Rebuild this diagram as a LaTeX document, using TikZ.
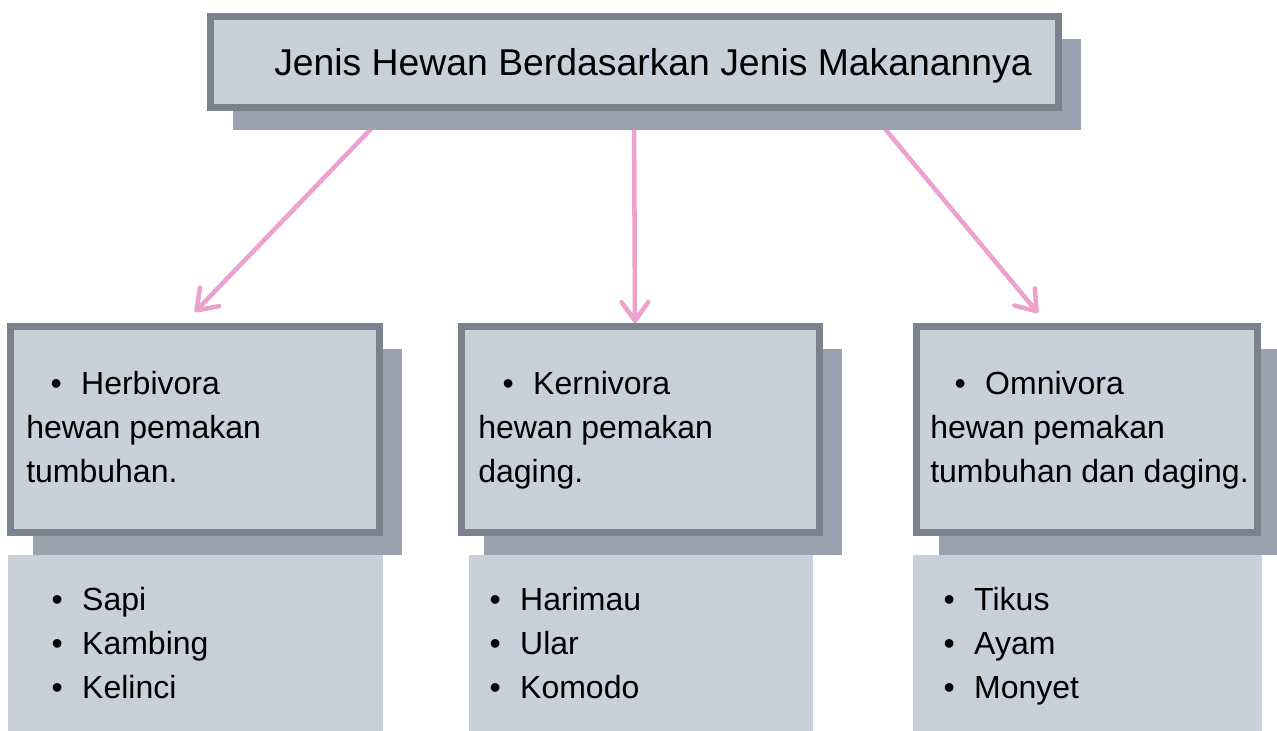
\documentclass[tikz,border=0pt]{standalone}
\usepackage{fontspec}
\setmainfont{Liberation Sans}
\usepackage{tikz}
\usetikzlibrary{arrows.meta,shadows}
\usetikzlibrary{positioning}
\definecolor{cardfill}{RGB}{200,208,218}
\definecolor{cardline}{RGB}{122,131,141}
\definecolor{cardshade}{RGB}{152,163,175}
\definecolor{linkpink}{RGB}{236,162,204}
\tikzstyle{card} = [draw=cardline, line width=5.25pt, fill=cardfill,
inner sep=0pt, outer sep=0pt,
drop shadow={shadow xshift=16.875pt, shadow yshift=-16.875pt, fill=cardshade, opacity=1}]
\tikzstyle{link} = [draw=linkpink, line width=3.4pt, -{Straight Barb[length=14pt,width=20pt,round]}]
\pgfdeclarelayer{back}
\pgfsetlayers{back,main}
\newcommand{\itemdot}{\textbullet\hspace*{14.5pt}}

\begin{document}
\begin{tikzpicture}[x=0.75pt, y=-0.75pt,
	cardtext/.style={font=\fontsize{24pt}{33pt}\selectfont, align=left,
		inner sep=0pt, anchor=base west},
	listbox/.style={fill=cardfill, minimum height=132pt, inner sep=0pt, outer sep=0pt}]
    \useasboundingbox (0,0) rectangle (1277,731);
    \node [card, minimum width=636pt, minimum height=68.25pt] (top) at (634.5,62) {};
    \node [font=\fontsize{28pt}{34pt}\selectfont, inner sep=0pt, anchor=base west] (title) at (274,76) {Jenis Hewan Berdasarkan Jenis Makanannya};
    \node [card, minimum width=276.75pt, minimum height=154.5pt] (herb) at (195,429.5) {};
    \node [card, minimum width=268.5pt, minimum height=154.5pt] (kern) at (640.5,429.5) {};
    \node [card, minimum width=255.75pt, minimum height=154.5pt] (omni) at (1087,429.5) {};
    % base anchor sits on the last line
    \node [cardtext] (herbtext) at (26,482) {\hspace*{18.3pt}\itemdot Herbivora\\hewan pemakan\\tumbuhan.};
    \node [cardtext] (kerntext) at (478,482) {\hspace*{18.3pt}\itemdot Kernivora\\hewan pemakan\\daging.};
    \node [cardtext] (omnitext) at (930,482) {\hspace*{18.3pt}\itemdot Omnivora\\hewan pemakan\\tumbuhan dan daging.};
    %% Lists
    \node [listbox, minimum width=281.25pt, below=16.875pt of herb] (herblist) {};
    \node [listbox, minimum width=258pt, below=16.875pt of kern] (kernlist) {};
    \node [listbox, minimum width=261.75pt, below=16.875pt of omni] (omnilist) {};
    \node [cardtext] (herbitems) at (51.4,698) {\itemdot Sapi\\\itemdot Kambing\\\itemdot Kelinci};
    \node [cardtext] (kernitems) at (489.4,698) {\itemdot Harimau\\\itemdot Ular\\\itemdot Komodo};
    \node [cardtext] (omniitems) at (943.4,698) {\itemdot Tikus\\\itemdot Ayam\\\itemdot Monyet};
    %% Arrows
    \begin{pgfonlayer}{back}
    \path [link] ([xshift=-182.2pt]top.south) to ([yshift=10.9pt]herb.north);
    \path [link] ([xshift=-0.4pt]top.south) to ([xshift=-4.1pt, yshift=2.6pt]kern.north);
    \path [link] ([xshift=174.6pt]top.south) to ([xshift=-36.75pt, yshift=10.1pt]omni.north);
    \end{pgfonlayer}
\end{tikzpicture}
\end{document}
